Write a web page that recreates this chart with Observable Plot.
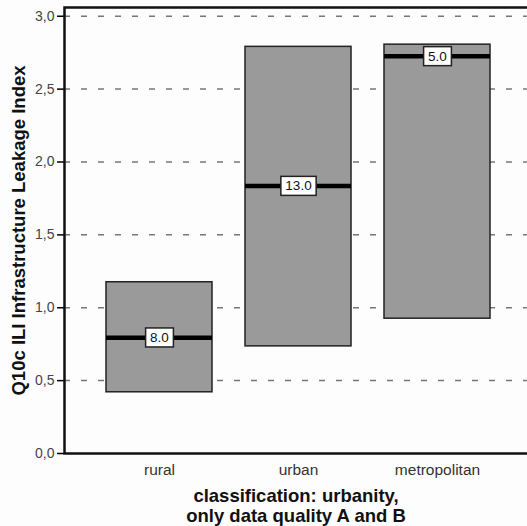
<!DOCTYPE html>
<html>
<head>
<meta charset="utf-8">
<script src="https://cdn.jsdelivr.net/npm/d3@7"></script>
<script src="https://cdn.jsdelivr.net/npm/@observablehq/plot@0.6"></script>
<style>
  html, body { margin: 0; padding: 0; background: #fdfdfd; }
</style>
</head>
<body>
<div id="chart"></div>
<script>
const categories = ["rural", "urban", "metropolitan"];
const lowerValues = [0.42, 0.735, 0.925];
const upperValues = [1.175, 2.79, 2.805];
const medianValues = [0.795, 1.835, 2.725];
const countLabels = ["8.0", "13.0", "5.0"];
const yTicks = [0, 0.5, 1.0, 1.5, 2.0, 2.5, 3.0];
const xTitle = "classification: urbanity,\nonly data quality A and B";
const yTitle = "Q10c ILI Infrastructure Leakage Index";

const data = categories.map((c, i) => ({
  cat: c, lo: lowerValues[i], hi: upperValues[i], med: medianValues[i], n: countLabels[i]
}));

const fmt = d => d.toFixed(1).replace(".", ",");

const chart = Plot.plot({
  width: 527,
  height: 526,
  marginLeft: 64,
  marginRight: 0,
  marginTop: 7,
  marginBottom: 73,
  style: { fontFamily: "'Liberation Sans', Arial, sans-serif", fontSize: "14px", background: "#fdfdfd", color: "#222" },
  x: { domain: categories, paddingInner: 0.24, paddingOuter: 0.28, align: 0.526, label: null },
  y: { domain: [0, 3.06], label: null },
  marks: [
    Plot.ruleY(yTicks.slice(1), { stroke: "#777", strokeWidth: 1.5, strokeDasharray: "6,11" }),
    Plot.axisY({ ticks: yTicks, tickFormat: fmt, tickSize: 7, tickPadding: 3, stroke: "#000", strokeWidth: 1.5, fill: "#444", fontSize: 14, label: null }),
    Plot.axisX({ tickSize: 0, tickPadding: 10, fill: "#333", fontSize: 15.5, label: null }),
    Plot.barY(data, { x: "cat", y1: "lo", y2: "hi", fill: "#9a9a9a", stroke: "#222", strokeWidth: 1.5 }),
    Plot.tickY(data, { x: "cat", y: "med", stroke: "#000", strokeWidth: 4.5 }),
    Plot.text(data, { x: "cat", y: "med", text: "n", fill: "#111", fontSize: 13.5 }),
    Plot.frame({ stroke: "#111", strokeWidth: 2.5, insetRight: -4 }),
    Plot.text([xTitle], { frameAnchor: "bottom", dy: 68, fontWeight: "bold", fontSize: 18.5, lineHeight: 1.05, fill: "#111", textAnchor: "middle" }),
    Plot.text([yTitle], { frameAnchor: "left", dx: -45, rotate: -90, fontWeight: "bold", fontSize: 18.5, fill: "#111", textAnchor: "middle" })
  ]
});

document.getElementById("chart").appendChild(chart);

// white boxes behind count labels
const countSet = new Set(countLabels);
d3.select(chart).selectAll("text").filter(function () {
  return countSet.has(this.textContent) && this.parentNode.getAttribute("aria-label") !== "y-axis tick label";
}).each(function () {
  const bb = this.getBBox();
  const t = this.getAttribute("transform");
  const rect = document.createElementNS("http://www.w3.org/2000/svg", "rect");
  rect.setAttribute("x", bb.x - 4.5);
  rect.setAttribute("y", bb.y - 2);
  rect.setAttribute("width", bb.width + 9);
  rect.setAttribute("height", bb.height + 4);
  rect.setAttribute("fill", "#fff");
  rect.setAttribute("stroke", "#222");
  rect.setAttribute("stroke-width", "1.5");
  if (t) rect.setAttribute("transform", t);
  this.parentNode.insertBefore(rect, this);
});
</script>
</body>
</html>
